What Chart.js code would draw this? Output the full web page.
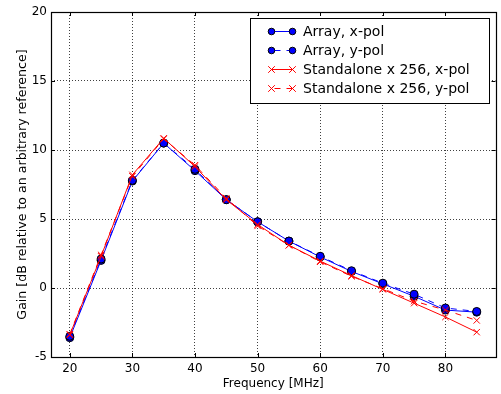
<!DOCTYPE html>
<html>
<head>
<meta charset="utf-8">
<script src="https://cdn.jsdelivr.net/npm/chart.js@4"></script>
<style>
  html, body { margin: 0; padding: 0; background: #fff; }
</style>
</head>
<body>
<canvas id="gainChart" width="501" height="394"></canvas>
<script>
// frequencies in MHz
const freqs = [20, 25, 30, 35, 40, 45, 50, 55, 60, 65, 70, 75, 80, 85];
// gain values (dB)
const arrayX = [-3.6, 2.0, 7.75, 10.5, 8.5, 6.4, 4.8, 3.4, 2.25, 1.2, 0.3, -0.6, -1.6, -1.75];
const arrayY = [-3.5, 2.1, 7.8, 10.5, 8.6, 6.4, 4.8, 3.4, 2.3, 1.25, 0.35, -0.45, -1.45, -1.7];
const standX = [-3.4, 2.3, 8.2, 10.85, 8.8, 6.4, 4.6, 3.1, 1.95, 0.9, -0.1, -1.1, -2.1, -3.2];
const standY = [-3.35, 2.4, 8.1, 10.8, 8.9, 6.5, 4.5, 3.1, 1.9, 0.85, -0.05, -0.95, -1.6, -2.35];
const seriesNames = ['Array, x-pol', 'Array, y-pol', 'Standalone x 256, x-pol', 'Standalone x 256, y-pol'];
const xTicks = [20, 30, 40, 50, 60, 70, 80];

const FONT = 'DejaVu Sans';
const BLUE = '#0000ff';
const RED = '#ff0000';

function toPoints(vals) {
    return freqs.map((f, i) => ({ x: f, y: vals[i] }));
}

function blueSeries(label, vals, dash, order) {
    return {
        label: label,
        data: toPoints(vals),
        borderColor: BLUE,
        borderWidth: 1,
        borderDash: dash,
        pointStyle: 'circle',
        pointRadius: 4,
        pointBackgroundColor: BLUE,
        pointBorderColor: '#000000',
        pointBorderWidth: 1,
        tension: 0,
        order: order
    };
}

function redSeries(label, vals, dash, order) {
    return {
        label: label,
        data: toPoints(vals),
        borderColor: RED,
        borderWidth: 1,
        borderDash: dash,
        pointStyle: 'crossRot',
        pointRadius: 4.5,
        pointBorderColor: RED,
        pointBackgroundColor: RED,
        pointBorderWidth: 1,
        tension: 0,
        order: order
    };
}

// legend entries: line colour, dashed?, marker type
const legendItems = [
    { color: BLUE, dash: [], marker: 'circle' },
    { color: BLUE, dash: [6, 6], marker: 'circle' },
    { color: RED, dash: [], marker: 'cross' },
    { color: RED, dash: [6, 6], marker: 'cross' }
];

// full box around the axes plus inward tick marks, like matplotlib
const frameAndTicks = {
    id: 'frameAndTicks',
    afterDatasetsDraw(chart) {
        const { ctx, chartArea: a, scales } = chart;
        ctx.save();
        ctx.strokeStyle = '#000';
        ctx.lineWidth = 1;
        ctx.setLineDash([]);
        ctx.beginPath();
        scales.x.ticks.forEach(t => {
            const px = Math.round(scales.x.getPixelForValue(t.value)) + 0.5;
            ctx.moveTo(px, a.bottom); ctx.lineTo(px, a.bottom - 4);
            ctx.moveTo(px, a.top); ctx.lineTo(px, a.top + 4);
        });
        scales.y.ticks.forEach(t => {
            const py = Math.round(scales.y.getPixelForValue(t.value)) + 0.5;
            ctx.moveTo(a.left, py); ctx.lineTo(a.left + 4, py);
            ctx.moveTo(a.right, py); ctx.lineTo(a.right - 4, py);
        });
        ctx.stroke();
        ctx.lineWidth = 1.2;
        ctx.strokeRect(Math.round(a.left) + 0.5, Math.round(a.top) + 0.5,
            Math.round(a.right - a.left), Math.round(a.bottom - a.top));
        ctx.restore();
    }
};

// legend box in the upper right
const boxLegend = {
    id: 'boxLegend',
    afterDraw(chart) {
        const ctx = chart.ctx;
        const x0 = 250.5, y0 = 18.5, w = 239, h = 85;
        ctx.save();
        ctx.fillStyle = '#fff';
        ctx.fillRect(x0, y0, w, h);
        ctx.strokeStyle = '#000';
        ctx.lineWidth = 1;
        ctx.strokeRect(x0, y0, w, h);
        ctx.font = '14px "' + FONT + '"';
        ctx.textBaseline = 'middle';
        legendItems.forEach((item, i) => {
            const y = 31.5 + i * 19;
            const xa = 271.5, xb = 292.5;
            ctx.strokeStyle = item.color;
            ctx.lineWidth = 1;
            ctx.setLineDash(item.dash);
            ctx.lineDashOffset = item.dash.length ? -3 : 0;
            ctx.beginPath();
            ctx.moveTo(xa, y); ctx.lineTo(xb, y);
            ctx.stroke();
            ctx.setLineDash([]);
            ctx.lineDashOffset = 0;
            [xa, xb].forEach(px => {
                ctx.beginPath();
                if (item.marker === 'circle') {
                    ctx.fillStyle = item.color;
                    ctx.strokeStyle = '#000';
                    ctx.arc(px, y, 3.3, 0, Math.PI * 2);
                    ctx.fill();
                    ctx.stroke();
                } else {
                    const r = 3.3;
                    ctx.strokeStyle = item.color;
                    ctx.moveTo(px - r, y - r); ctx.lineTo(px + r, y + r);
                    ctx.moveTo(px - r, y + r); ctx.lineTo(px + r, y - r);
                    ctx.stroke();
                }
            });
            ctx.fillStyle = '#000';
            ctx.fillText(seriesNames[i], 303, y + 0.5);
        });
        ctx.restore();
    }
};

const gridStyle = {
    color: 'rgba(0,0,0,0.75)',
    lineWidth: 1,
    drawTicks: false
};

new Chart(document.getElementById('gainChart').getContext('2d'), {
    type: 'line',
    data: {
        datasets: [
            blueSeries(seriesNames[0], arrayX, [], 4),
            blueSeries(seriesNames[1], arrayY, [6, 6], 3),
            redSeries(seriesNames[2], standX, [], 2),
            redSeries(seriesNames[3], standY, [6, 6], 1)
        ]
    },
    options: {
        responsive: false,
        animation: false,
        devicePixelRatio: 1,
        layout: { padding: { top: 12, right: 4, left: 0, bottom: 0 } },
        plugins: {
            legend: { display: false },
            tooltip: { enabled: false }
        },
        scales: {
            x: {
                type: 'linear',
                min: 17,
                max: 88,
                afterBuildTicks: s => { s.ticks = xTicks.map(v => ({ value: v })); },
                afterFit: s => { s.height = 37; },
                grid: gridStyle,
                border: { display: false, dash: [1, 2] },
                ticks: {
                    color: '#000',
                    padding: 5,
                    maxRotation: 0,
                    font: { family: FONT, size: 12 }
                },
                title: {
                    display: true,
                    text: 'Frequency [MHz]',
                    color: '#000',
                    padding: { top: 0, bottom: 3 },
                    font: { family: FONT, size: 12 }
                }
            },
            y: {
                min: -5,
                max: 20,
                ticks: {
                    stepSize: 5,
                    color: '#000',
                    padding: 4,
                    font: { family: FONT, size: 12 }
                },
                afterFit: s => { s.width = 51; },
                grid: gridStyle,
                border: { display: false, dash: [1, 2] },
                title: {
                    display: true,
                    text: 'Gain [dB relative to an arbitrary reference]',
                    color: '#000',
                    padding: { top: 15, bottom: 0 },
                    font: { family: FONT, size: 12.6 }
                }
            }
        }
    },
    plugins: [frameAndTicks, boxLegend]
});
</script>
</body>
</html>
